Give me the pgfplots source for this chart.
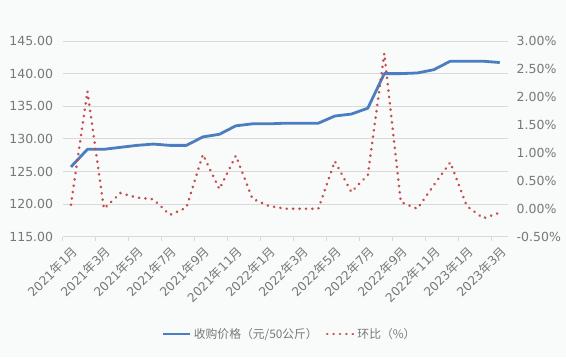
\documentclass[border=0pt]{standalone}
\usepackage{fontspec}
\setmainfont{DejaVu Sans}
\newfontfamily\cjk{Noto Sans CJK SC}
\usepackage{pgfplots}
\pgfplotsset{compat=1.18}
\definecolor{bgc}{RGB}{249,250,250}
\definecolor{txt}{RGB}{120,120,120}
\definecolor{gridc}{RGB}{217,217,217}
\definecolor{blueline}{RGB}{74,126,192}
\definecolor{redline}{RGB}{198,76,76}
\newcommand{\ym}[2]{#1{\cjk 年}#2{\cjk 月}}
\begin{document}
\begin{tikzpicture}
\useasboundingbox (0pt,0pt) rectangle (566pt,357pt);
\fill[bgc] (0pt,0pt) rectangle (566pt,357pt);
\begin{axis}[
  at={(62.7pt,120.3pt)}, anchor=south west,
  scale only axis, width=445.3pt, height=195.7pt,
  xmin=-0.5, xmax=26.5, ymin=115, ymax=145,
  axis line style={draw=none},
  /pgf/number format/assume math mode=true,
  ytick={115,120,125,130,135,140,145},
  yticklabels={115.00,120.00,125.00,130.00,135.00,140.00,145.00},
  ymajorgrids, grid style={gridc, line width=0.8pt},
  ytick style={draw=none},
  yticklabel style={font=\fontsize{12.5}{14}\selectfont, text=txt, inner sep=0pt, xshift=-9.4pt},
  xtick={0,2,...,26},
  xticklabels={\ym{2021}{1},\ym{2021}{3},\ym{2021}{5},\ym{2021}{7},\ym{2021}{9},\ym{2021}{11},\ym{2022}{1},\ym{2022}{3},\ym{2022}{5},\ym{2022}{7},\ym{2022}{9},\ym{2022}{11},\ym{2023}{1},\ym{2023}{3}},
  xticklabel style={font=\fontsize{12.3}{14}\selectfont, text=txt, inner sep=0pt, yshift=-8.3pt, rotate=45, anchor=north east},
  major tick length=0pt,
  xtick pos=bottom, tick align=outside,
  extra x ticks={-0.5,1.5,...,25.5},
  extra x tick labels={},
  extra x tick style={major tick length=4pt, tick style={draw=gridc, line width=0.8pt}},
  tick pos=left,
]
\addplot[blueline, line width=2.8pt, line join=round] coordinates {
(0,125.7) (1,128.4) (2,128.4) (3,128.7) (4,129.0) (5,129.2) (6,129.0) (7,129.0)
(8,130.3) (9,130.7) (10,132.0) (11,132.3) (12,132.3) (13,132.4) (14,132.4) (15,132.4)
(16,133.5) (17,133.8) (18,134.7) (19,140.0) (20,140.0) (21,140.1) (22,140.6) (23,141.9)
(24,141.9) (25,141.9) (26,141.7)};
\end{axis}
\begin{axis}[
  at={(62.7pt,120.3pt)}, anchor=south west,
  scale only axis, width=445.3pt, height=195.7pt,
  xmin=-0.5, xmax=26.5, ymin=-0.5, ymax=3.0,
  axis line style={draw=none},
  axis y line*=right,
  axis x line=none,
  xtick=\empty,
  ytick={-0.5,0,0.5,1,1.5,2,2.5,3},
  yticklabels={-0.50\%,0.00\%,0.50\%,1.00\%,1.50\%,2.00\%,2.50\%,3.00\%},
  ytick style={draw=none},
  major tick length=0pt,
  yticklabel style={font=\fontsize{12.5}{14}\selectfont, text=txt, inner sep=0pt, xshift=8.5pt, anchor=west},
  legend columns=2,
  legend image code/.code={\draw[#1] (0pt,0pt) -- (27pt,0pt);},
  legend style={draw=none, fill=none, at={(0.51,-0.497)}, anchor=center,
    font=\fontsize{11.8}{13}\selectfont, text=txt,
    /tikz/every even column/.append style={column sep=6pt}},
]
\addlegendimage{blueline, line width=2.8pt}
\addlegendentry{{\cjk 收购价格（元/50公斤）}}
\addplot[redline, line width=2.7pt, line cap=round, dash pattern=on 0.2pt off 6.2pt] coordinates {
(0,0.07) (1,2.10) (2,0.00) (3,0.28) (4,0.20) (5,0.17) (6,-0.11) (7,0.02)
(8,0.97) (9,0.35) (10,0.95) (11,0.18) (12,0.05) (13,0.00) (14,0.00) (15,0.00)
(16,0.85) (17,0.30) (18,0.60) (19,2.78) (20,0.12) (21,0.00) (22,0.42) (23,0.83)
(24,0.05) (25,-0.17) (26,-0.07)};
\addlegendentry{{\cjk 环比（\%）}}
\end{axis}
\end{tikzpicture}
\end{document}
